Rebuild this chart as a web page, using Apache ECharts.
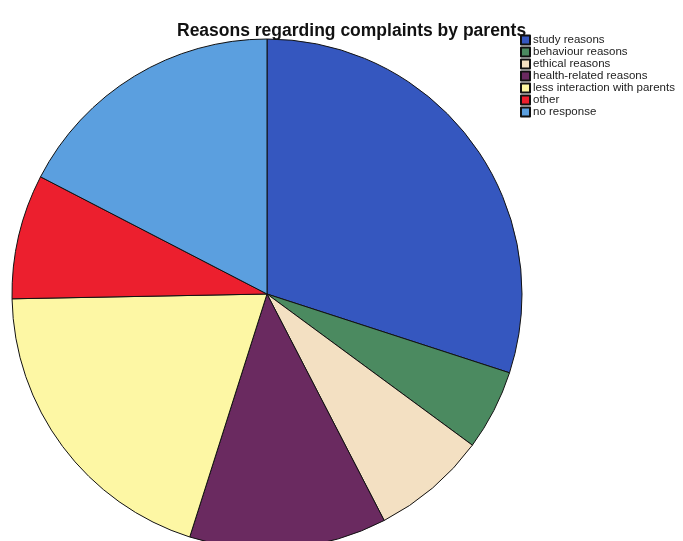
<!DOCTYPE html>
<html>
<head>
<meta charset="utf-8">
<script src="https://cdn.jsdelivr.net/npm/echarts@6/dist/echarts.min.js"></script>
<style>
  html, body { margin: 0; padding: 0; background: #fff; }
  #pie { width: 683px; height: 541px; }
</style>
</head>
<body>
<div id="pie"></div>
<script>
    // reasons and shares (%)
    const categories = ['study reasons', 'behaviour reasons', 'ethical reasons', 'health-related reasons',
        'less interaction with parents', 'other', 'no response'];
    const shares = [30, 5.1, 7.3, 12.5, 19.8, 7.9, 17.4];
    const colors = ['#3557bf', '#4b8a60', '#f3e0c2', '#6a2a60', '#fdf7a4', '#ec1f2e', '#5b9fdf'];

    let myChart = echarts.init(document.getElementById('pie'));

    myChart.setOption({
        color: colors,
        title: {
            text: 'Reasons regarding complaints by parents',
            left: 172,
            top: 17,
            textStyle: {
                fontFamily: 'Liberation Sans, Arial',
                fontSize: 17.5,
                fontWeight: 'bold',
                color: '#111'
            }
        },
        legend: {
            orient: 'vertical',
            left: 520,
            top: 34,
            padding: 0,
            itemWidth: 9,
            itemHeight: 9,
            itemGap: 0,
            icon: 'rect',
            textStyle: {
                fontFamily: 'Liberation Sans, Arial',
                fontSize: 11.5,
                lineHeight: 12,
                color: '#222',
                padding: [0, 0, 0, -2]
            }
        },
        series: [{
            name: 'reasons',
            type: 'pie',
            center: [267, 294],
            radius: 255,
            startAngle: 90,
            clockwise: true,
            label: { show: false },
            labelLine: { show: false },
            emphasis: { disabled: true },
            itemStyle: {
                borderColor: '#111',
                borderWidth: 1
            },
            data: categories.map((name, i) => {
                return {
                    value: shares[i],
                    name: name
                }
            })
        }]
    });
</script>
</body>
</html>
